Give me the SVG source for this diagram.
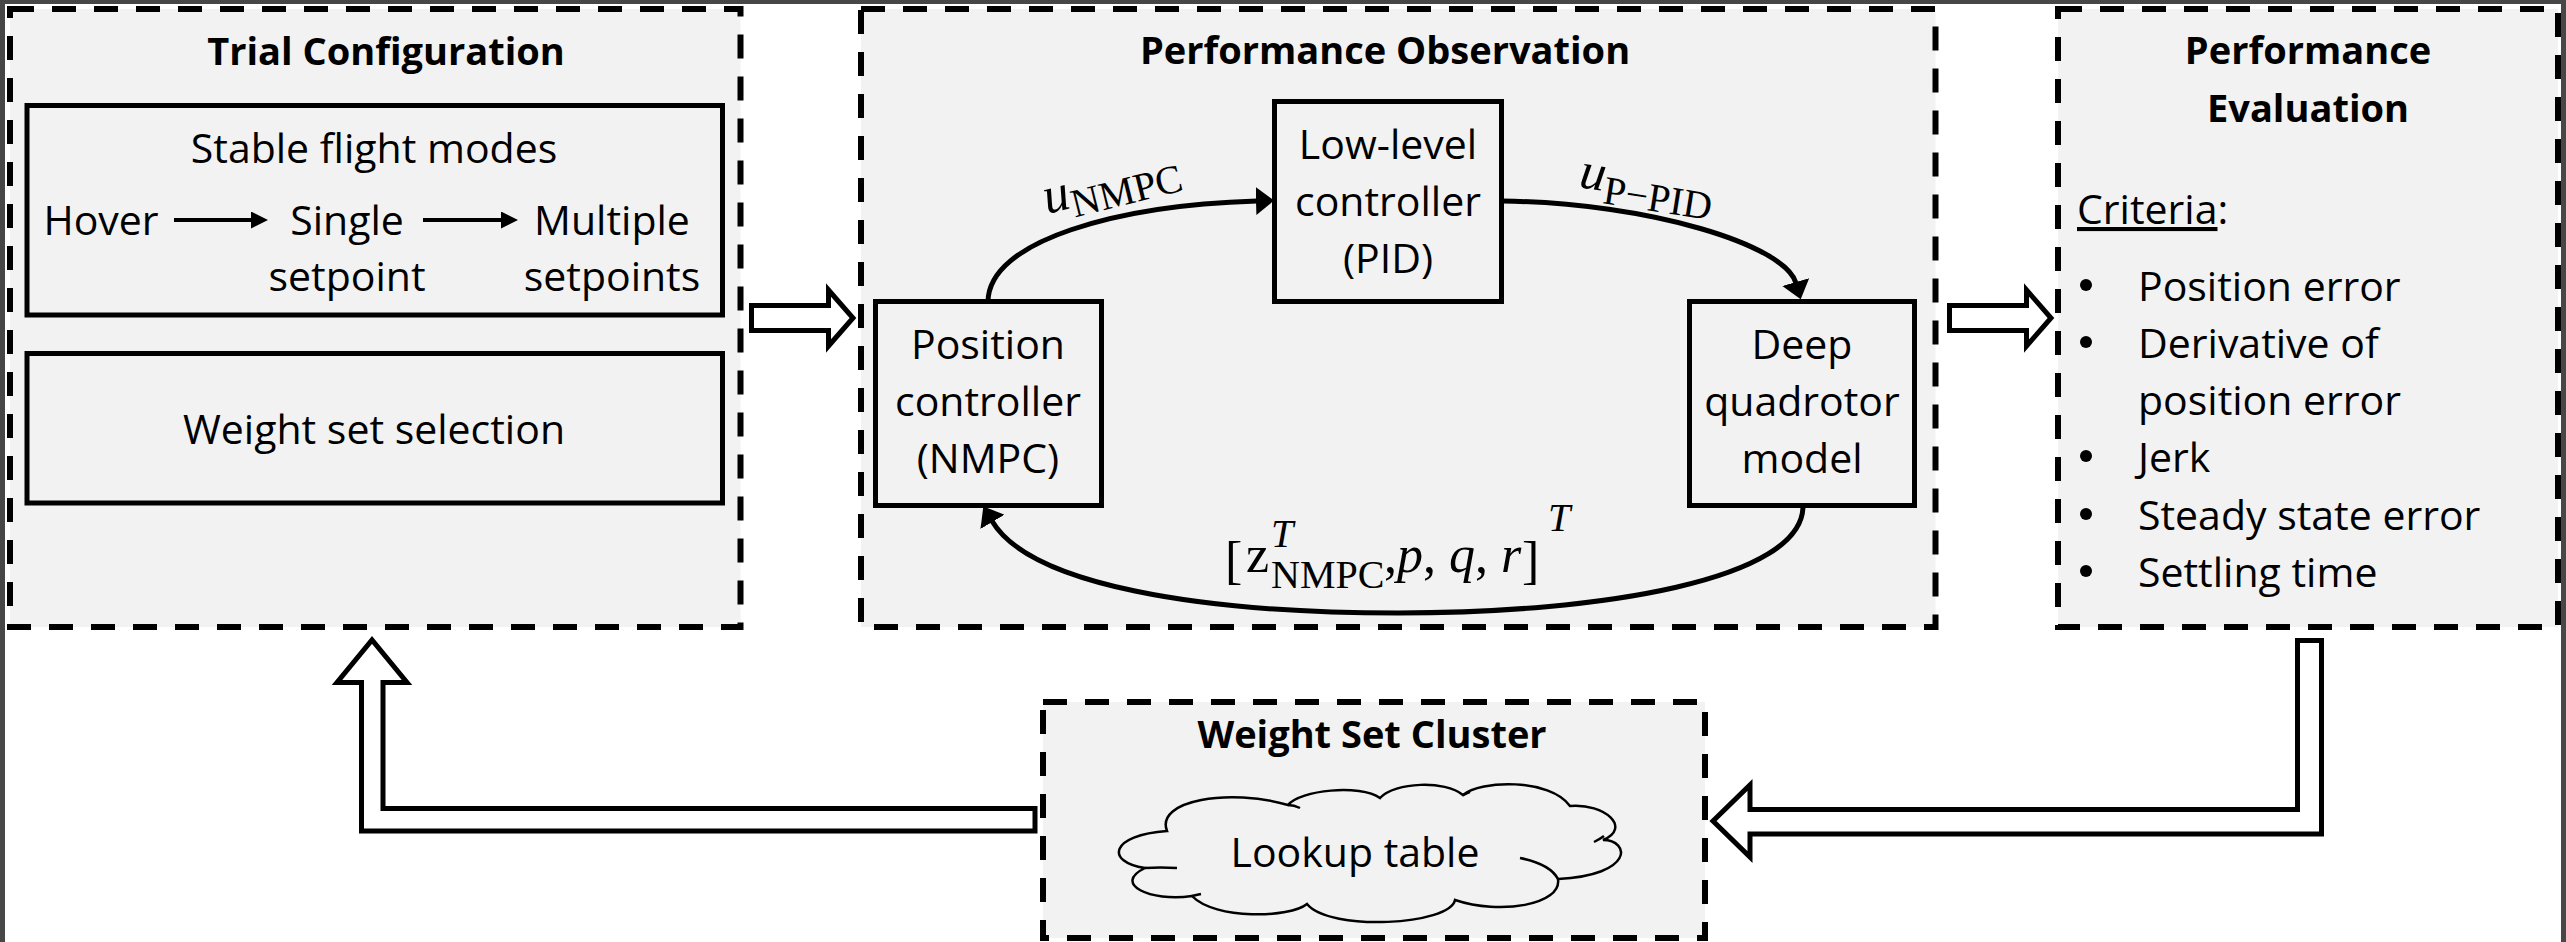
<svg xmlns="http://www.w3.org/2000/svg" width="2566" height="942" viewBox="0 0 2566 942">
<defs>
<style>
.dash{fill:#f2f2f2;stroke:#000;stroke-width:6;stroke-dasharray:24 18}
.box{fill:#f2f2f2;stroke:#000;stroke-width:5}
.t{font-family:'Open Sans',Lato,sans-serif;font-size:41px;fill:#000}
.c{text-anchor:middle}
.b{font-weight:bold;font-size:38px}
.m{font-family:'Liberation Serif','Times New Roman',serif;fill:#000;font-size:52px}
.s{font-size:40px}
.i{font-style:italic}
.wire{fill:none;stroke:#000;stroke-width:5}
.hollow{fill:#fff;stroke:#000;stroke-width:5;stroke-linejoin:miter;stroke-miterlimit:10}
.cloud{fill:#f2f2f2;stroke:#000;stroke-width:2.5}
.crease{fill:none;stroke:#000;stroke-width:2.5}
</style>
<marker id="ah" markerUnits="userSpaceOnUse" markerWidth="18" markerHeight="28" viewBox="0 0 18 28" refX="1" refY="14" orient="auto"><path d="M0,0 L18,14 L0,28 z" fill="#000"/></marker>
<marker id="ahs" markerUnits="userSpaceOnUse" markerWidth="17" markerHeight="17" viewBox="0 0 17 17" refX="1" refY="8.5" orient="auto"><path d="M0,0 L17,8.5 L0,17 z" fill="#000"/></marker>
</defs>
<rect width="2566" height="942" fill="#fff"/>
<rect x="0" y="0" width="5" height="942" fill="#474747"/>
<rect x="0" y="0" width="2566" height="4" fill="#474747"/>
<rect x="2561" y="0" width="5" height="942" fill="#474747"/>

<g id="trial-configuration">
<rect class="dash" x="10" y="9" width="730.5" height="618"/>
<text class="t c b" x="386" y="65">Trial Configuration</text>
<g id="stable-flight-modes">
<rect class="box" x="27" y="105.5" width="695.5" height="209.5"/>
<text class="t c" x="374" y="163">Stable flight modes</text>
<text class="t c" x="101" y="235">Hover</text>
<text class="t c" x="347" y="235">Single</text>
<text class="t c" x="347" y="291">setpoint</text>
<text class="t c" x="612" y="235">Multiple</text>
<text class="t c" x="612" y="291">setpoints</text>
</g>
<g id="weight-set-selection">
<rect class="box" x="27" y="353.5" width="695.5" height="149.5"/>
<text class="t c" x="374" y="444">Weight set selection</text>
</g>
</g>

<g id="performance-observation">
<rect class="dash" x="861" y="9" width="1074.5" height="618"/>
<text class="t c b" x="1385" y="64">Performance Observation</text>
</g>
<g id="position-controller">
<rect class="box" x="875.5" y="301.5" width="226" height="204"/>
<text class="t c" x="988" y="359">Position</text>
<text class="t c" x="988" y="416">controller</text>
<text class="t c" x="988" y="473">(NMPC)</text>
</g>
<g id="low-level-controller">
<rect class="box" x="1274.5" y="101.5" width="227" height="200"/>
<text class="t c" x="1388" y="159">Low-level</text>
<text class="t c" x="1388" y="216">controller</text>
<text class="t c" x="1388" y="273">(PID)</text>
</g>
<g id="deep-quadrotor-model">
<rect class="box" x="1689.5" y="301.5" width="225" height="204"/>
<text class="t c" x="1802" y="359">Deep</text>
<text class="t c" x="1802" y="416">quadrotor</text>
<text class="t c" x="1802" y="473">model</text>
</g>

<g id="performance-evaluation">
<rect class="dash" x="2058" y="9" width="500" height="618"/>
<text class="t c b" x="2308" y="64">Performance</text>
<text class="t c b" x="2308" y="122">Evaluation</text>
<text class="t" x="2077" y="224"><tspan text-decoration="underline">Criteria</tspan>:</text>
<g fill="#000">
<circle cx="2086" cy="285" r="6"/>
<circle cx="2086" cy="342" r="6"/>
<circle cx="2086" cy="456" r="6"/>
<circle cx="2086" cy="514" r="6"/>
<circle cx="2086" cy="571" r="6"/>
</g>
<text class="t" x="2138" y="301">Position error</text>
<text class="t" x="2138" y="358">Derivative of</text>
<text class="t" x="2138" y="415">position error</text>
<text class="t" x="2138" y="472">Jerk</text>
<text class="t" x="2138" y="530">Steady state error</text>
<text class="t" x="2138" y="587">Settling time</text>
</g>

<g id="weight-set-cluster">
<rect class="dash" x="1043" y="702" width="662" height="236"/>
<text class="t c b" x="1372" y="748">Weight Set Cluster</text>
<g id="lookup-table">
<path class="cloud" d="M1167,831 C1155,800 1230,788 1288,805 C1300,790 1360,784 1380,798 C1395,782 1445,780 1463,795 C1480,780 1550,778 1570,806 C1605,803 1632,828 1603,840 C1630,840 1635,875 1558,879 C1562,905 1500,915 1455,900 C1450,925 1330,932 1307,904 C1290,918 1215,920 1192,896 C1150,902 1112,884 1145,868 C1105,862 1110,835 1167,831 Z"/>
<path class="crease" d="M1145,868 Q1160,867 1177,868 M1288,805 Q1294,805 1300,808 M1463,795 Q1466,794 1470,792 M1594,842 Q1600,839 1604,836 M1520,858 Q1550,864 1558,879 M1192,896 Q1196,895 1201,894"/>
<text class="t c" x="1355" y="867">Lookup table</text>
</g>
</g>

<g id="connectors">
<line x1="174" y1="220" x2="252" y2="220" stroke="#000" stroke-width="4" marker-end="url(#ahs)"/>
<line x1="423" y1="220" x2="502" y2="220" stroke="#000" stroke-width="4" marker-end="url(#ahs)"/>
<path class="wire" d="M988,302 C988,240 1120,205 1257,201" marker-end="url(#ah)"/>
<path class="wire" d="M1502,201 C1650,203 1785,245 1796,283" marker-end="url(#ah)"/>
<path class="wire" d="M1803,506 C1803,580 1600,613 1398,613 C1200,613 1030,585 992,521" marker-end="url(#ah)"/>
<polygon class="hollow" points="751.5,305.5 828.5,305.5 828.5,290 853,318 828.5,346 828.5,330.5 751.5,330.5"/>
<polygon class="hollow" points="1949.5,305.5 2026.5,305.5 2026.5,290 2051,318 2026.5,346 2026.5,330.5 1949.5,330.5"/>
<polygon class="hollow" points="2297.5,640.5 2321.5,640.5 2321.5,834 1750,834 1750,857 1713,821 1750,785 1750,809.5 2297.5,809.5"/>
<polygon class="hollow" points="1035,808.5 383,808.5 383,682.5 407,682.5 372,640 337,682.5 361.5,682.5 361.5,831 1035,831"/>
<g transform="rotate(-14 1047 214)">
<text class="m" x="1047" y="214"><tspan class="i">u</tspan><tspan class="s" dy="10">NMPC</tspan></text>
</g>
<g transform="rotate(9 1578 187)">
<text class="m" x="1578" y="187"><tspan class="i">u</tspan><tspan class="s" dy="12">P−PID</tspan></text>
</g>
<g id="feedback-label">
<text class="m" x="1225" y="578" font-size="80">[</text>
<text class="m" x="1246" y="572">z</text>
<text class="m s i" x="1271" y="547">T</text>
<text class="m s" x="1271" y="588">NMPC</text>
<text class="m" x="1384" y="572">,<tspan class="i">p</tspan>, <tspan class="i">q</tspan>, <tspan class="i">r</tspan></text>
<text class="m" x="1522" y="578" font-size="80">]</text>
<text class="m s i" x="1548" y="531">T</text>
</g>
</g>
</svg>
